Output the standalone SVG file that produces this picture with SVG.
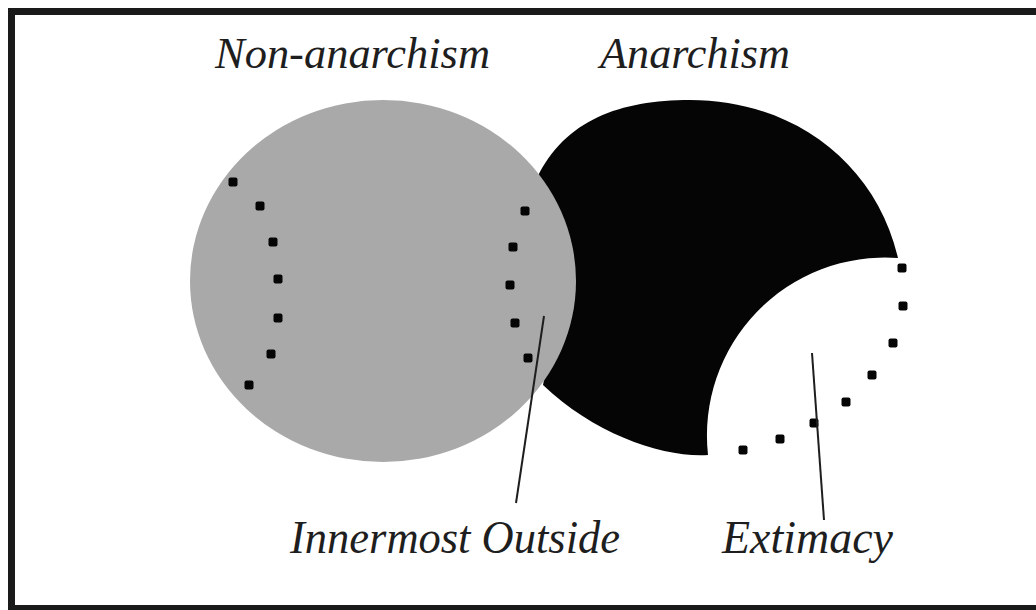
<svg xmlns="http://www.w3.org/2000/svg" xmlns:xlink="http://www.w3.org/1999/xlink" width="1036" height="610" viewBox="0 0 1036 610">
  <style>
    .lbl { font-family: "Liberation Serif", "DejaVu Serif", serif; font-style: italic; fill: #1e1e1e; }
    .lead { stroke: #1e1e1e; stroke-width: 2; fill: none; }
  </style>
  <defs>
    <rect id="dot" x="-4.5" y="-4.5" width="9" height="9" rx="2" fill="#050505"/>
  </defs>
  <rect x="0" y="0" width="1036" height="610" fill="#ffffff"/>
  <rect x="11.5" y="11.5" width="1040" height="597" fill="none" stroke="#1a1a1a" stroke-width="7"/>

  <g id="anarchism">
    <path d="M 537,178 C 565,120 620,100 690,100 C 790,100 875,160 898,258 A 178 178 0 0 0 708,455 C 665,458 595,435 543,385 L 560,300 Z" fill="#050505"/>
  </g>
  <g id="non-anarchism">
    <ellipse cx="383" cy="281" rx="193" ry="181" fill="#a9a9a9"/>
  </g>

  <g id="dots-left">
    <use xlink:href="#dot" x="233" y="182"/>
    <use xlink:href="#dot" x="260" y="206"/>
    <use xlink:href="#dot" x="273" y="242"/>
    <use xlink:href="#dot" x="278" y="279"/>
    <use xlink:href="#dot" x="278" y="318"/>
    <use xlink:href="#dot" x="271" y="354"/>
    <use xlink:href="#dot" x="249" y="385"/>
  </g>
  <g id="dots-inner">
    <use xlink:href="#dot" x="525" y="211"/>
    <use xlink:href="#dot" x="513" y="247"/>
    <use xlink:href="#dot" x="510" y="285"/>
    <use xlink:href="#dot" x="515" y="323"/>
    <use xlink:href="#dot" x="528" y="358"/>
  </g>
  <g id="extimacy-region">
    <use xlink:href="#dot" x="902" y="268"/>
    <use xlink:href="#dot" x="903" y="306"/>
    <use xlink:href="#dot" x="893" y="343"/>
    <use xlink:href="#dot" x="872" y="375"/>
    <use xlink:href="#dot" x="846" y="402"/>
    <use xlink:href="#dot" x="814" y="423"/>
    <use xlink:href="#dot" x="780" y="439"/>
    <use xlink:href="#dot" x="743" y="450"/>
  </g>

  <g id="connectors">
    <line class="lead" x1="544" y1="316" x2="516" y2="503"/>
    <line class="lead" x1="812" y1="353" x2="824" y2="520"/>
  </g>

  <g id="labels">
    <text class="lbl" x="215" y="68" font-size="44" textLength="275" lengthAdjust="spacingAndGlyphs">Non-anarchism</text>
    <text class="lbl" x="600" y="68" font-size="44" textLength="190" lengthAdjust="spacingAndGlyphs">Anarchism</text>
    <text class="lbl" x="290" y="553" font-size="46" textLength="330" lengthAdjust="spacingAndGlyphs">Innermost Outside</text>
    <text class="lbl" x="722" y="553" font-size="46" textLength="171" lengthAdjust="spacingAndGlyphs">Extimacy</text>
  </g>
</svg>
